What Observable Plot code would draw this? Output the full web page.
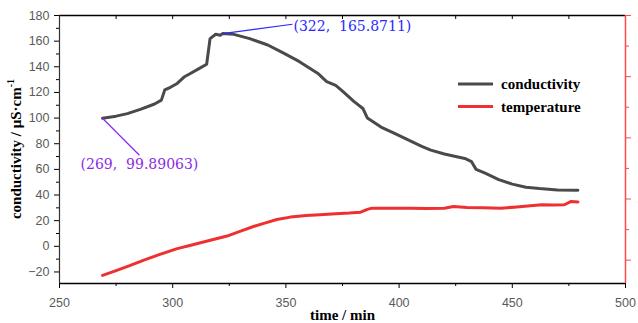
<!DOCTYPE html>
<html><head><meta charset="utf-8">
<script src="https://cdn.jsdelivr.net/npm/d3@7"></script>
<script src="https://cdn.jsdelivr.net/npm/@observablehq/plot@0.6"></script>
<style>
body{margin:0;background:#fff;}
#chart svg{display:block;overflow:hidden;}
</style></head><body><div id="chart"></div>
<script>
// conductivity (µS·cm-1) vs time (min)
const condTime  = [269,275,280,286,292,295,296.5,299,302,305,308,312,315,316.5,319,321,322,327,334,342,349,356,364,368,372,375,380,384,386,392,398,404,410,414,420,425,429,432,434,438,444,450,456,462,470,479];
const condValue = [99.89,101.5,103.5,107,111,114,122,124,127,132,135,139,142,162,165.4,164.6,165.87,165.3,162,157,150.6,144,135,128.5,125.5,121,113,107.5,100,93,88,83,78,75,72,70,68.5,66,60,57,52,48.5,46,45,44,43.7];
// temperature (right axis units) vs time (min)
const tempTime  = [269,275,281,287,294,302,308,314,324,330,336,341,346,352,359,365,372,378,383,386,388,395,405,412,420,424,430,437,445,452,458,463,468,473,476,479];
const tempValue = [13.76,14.15,14.55,14.98,15.45,15.94,16.22,16.5,16.97,17.38,17.77,18.05,18.32,18.52,18.65,18.72,18.8,18.85,18.92,19.15,19.25,19.24,19.25,19.22,19.25,19.38,19.3,19.28,19.25,19.35,19.45,19.53,19.5,19.53,19.8,19.76];

const xTicks = [250,300,350,400,450,500];
const xMinor = [275,325,375,425,475];
const topTicks = [275,300,325,350,375,400,425,450,475];
const yTicks = [-20,0,20,40,60,80,100,120,140,160,180];
const yMinor = [-10,10,30,50,70,90,110,130,150,170];
const tempTicks = [35,30,25,20,15];
const tempMinor = [32.5,27.5,22.5,17.5];
const xDomain = [250,500];
const yDomain = [-29,180];

// secondary axis calibration: temperature -> left-axis units
const tTop = 35, tPerUnit = 9.54;
const tempToY = T => 180 - (tTop - T) * tPerUnit;
const yToTemp = v => Math.round((tTop - (180 - v) / tPerUnit) * 10) / 10;

const NB = "\u00a0";
const peak = {t: 322, v: 165.8711, label: `(322,${NB}${NB}165.8711)`, lx: 352.9, ly: 173.2};
const start = {t: 269, v: 99.89063, label: `(269,${NB}${NB}99.89063)`, lx: 285.3, ly: 71.0};

const cond = condTime.map((t, i) => ({t, v: condValue[i]}));
const temp = tempTime.map((t, i) => ({t, v: tempToY(tempValue[i])}));

const serif = '"Liberation Serif", "DejaVu Serif", serif';
const annoFont = '"DejaVu Serif", serif';
const sans = '"Liberation Sans", Arial, sans-serif';
const tickGray = "#5a5a5a";
const red = "#ff4a4a";

const chart = Plot.plot({
  width: 638, height: 323,
  marginLeft: 59, marginRight: 13, marginTop: 15, marginBottom: 40,
  style: {fontFamily: sans, fontSize: "12.5px", background: "#fff", overflow: "hidden"},
  x: {domain: xDomain, axis: null},
  y: {domain: yDomain, axis: null},
  marks: [
    // frame lines
    Plot.ruleY([yDomain[1]], {stroke: "#000", strokeWidth: 1.5}),
    Plot.ruleY([yDomain[0]], {stroke: "#000", strokeWidth: 1.5}),
    Plot.ruleX([xDomain[0]], {stroke: "#333", strokeWidth: 1.2}),
    Plot.ruleX([xDomain[1]], {stroke: red, strokeWidth: 1.5}),
    // bottom axis
    Plot.axisX({anchor: "bottom", ticks: xTicks, tickSize: 5, tickPadding: 10, color: tickGray, stroke: "#000", label: null, tickFormat: d => d}),
    Plot.axisX({anchor: "bottom", ticks: xMinor, tickSize: 3, text: null, stroke: "#000", label: null}),
    // top inward ticks
    Plot.axisX({anchor: "top", ticks: topTicks, tickSize: 3, dy: 3, text: null, stroke: "#000", label: null}),
    // left axis
    Plot.axisY({anchor: "left", ticks: yTicks, tickSize: 5, tickPadding: 5, color: tickGray, stroke: "#000", label: null, tickFormat: d => d < 0 ? "\u2212" + (-d) : d}),
    Plot.axisY({anchor: "left", ticks: yMinor, tickSize: 3, text: null, stroke: "#000", label: null}),
    // right axis (temperature)
    Plot.axisY({anchor: "right", ticks: tempTicks.map(tempToY), tickSize: 5, tickPadding: 7, color: red, label: null, tickFormat: yToTemp}),
    Plot.axisY({anchor: "right", ticks: tempMinor.map(tempToY), tickSize: 3, text: null, color: red, label: null}),
    // data
    Plot.line(temp, {x: "t", y: "v", stroke: "#ee3030", strokeWidth: 3, strokeLinejoin: "round"}),
    Plot.line(cond, {x: "t", y: "v", stroke: "#4a4a4a", strokeWidth: 3, strokeLinejoin: "round"}),
    // annotations
    Plot.link([peak], {x1: "t", y1: "v", x2: "lx", y2: "ly", stroke: "#2a2aff", strokeWidth: 1.2}),
    Plot.text([peak], {x: "lx", y: "ly", text: "label", textAnchor: "start", dx: 1, dy: 2, fill: "#2a2aff", fontSize: 14, fontFamily: annoFont}),
    Plot.link([start], {x1: "t", y1: "v", x2: "lx", y2: "ly", stroke: "#8a2be2", strokeWidth: 1.2}),
    Plot.text([start], {x: "lx", y: "ly", text: "label", textAnchor: "middle", dx: 0, dy: 9, fill: "#8a2be2", fontSize: 14, fontFamily: annoFont}),
    // x label
    Plot.text(["time / min"], {frameAnchor: "bottom", text: d => d, dy: 36, fontWeight: "bold", fontSize: 15, fontFamily: serif, fill: "#000"})
  ]
});

const svg = d3.select(chart);
// y-axis label with superscript
const yl = svg.append("text")
  .attr("transform", "translate(18,149) rotate(-90)")
  .attr("text-anchor", "middle")
  .attr("dominant-baseline", "middle")
  .style("font", `bold 15px ${serif}`)
  .attr("fill", "#000");
yl.append("tspan").text("conductivity / μS·cm");
yl.append("tspan").attr("dy", -6).style("font-size", "10px").text("-1");

// legend
const legend = [{name: "conductivity", color: "#4a4a4a"}, {name: "temperature", color: "#ee3030"}];
const lg = svg.append("g");
legend.forEach((d, i) => {
  const y = 84 + i * 22.5;
  lg.append("line").attr("x1", 458).attr("x2", 493).attr("y1", y).attr("y2", y)
    .attr("stroke", d.color).attr("stroke-width", 3);
  lg.append("text").attr("x", 501).attr("y", y + 5).attr("text-anchor", "start").text(d.name)
    .style("font", `bold 15px ${serif}`).attr("fill", "#000");
});

document.getElementById("chart").append(chart);
</script></body></html>
